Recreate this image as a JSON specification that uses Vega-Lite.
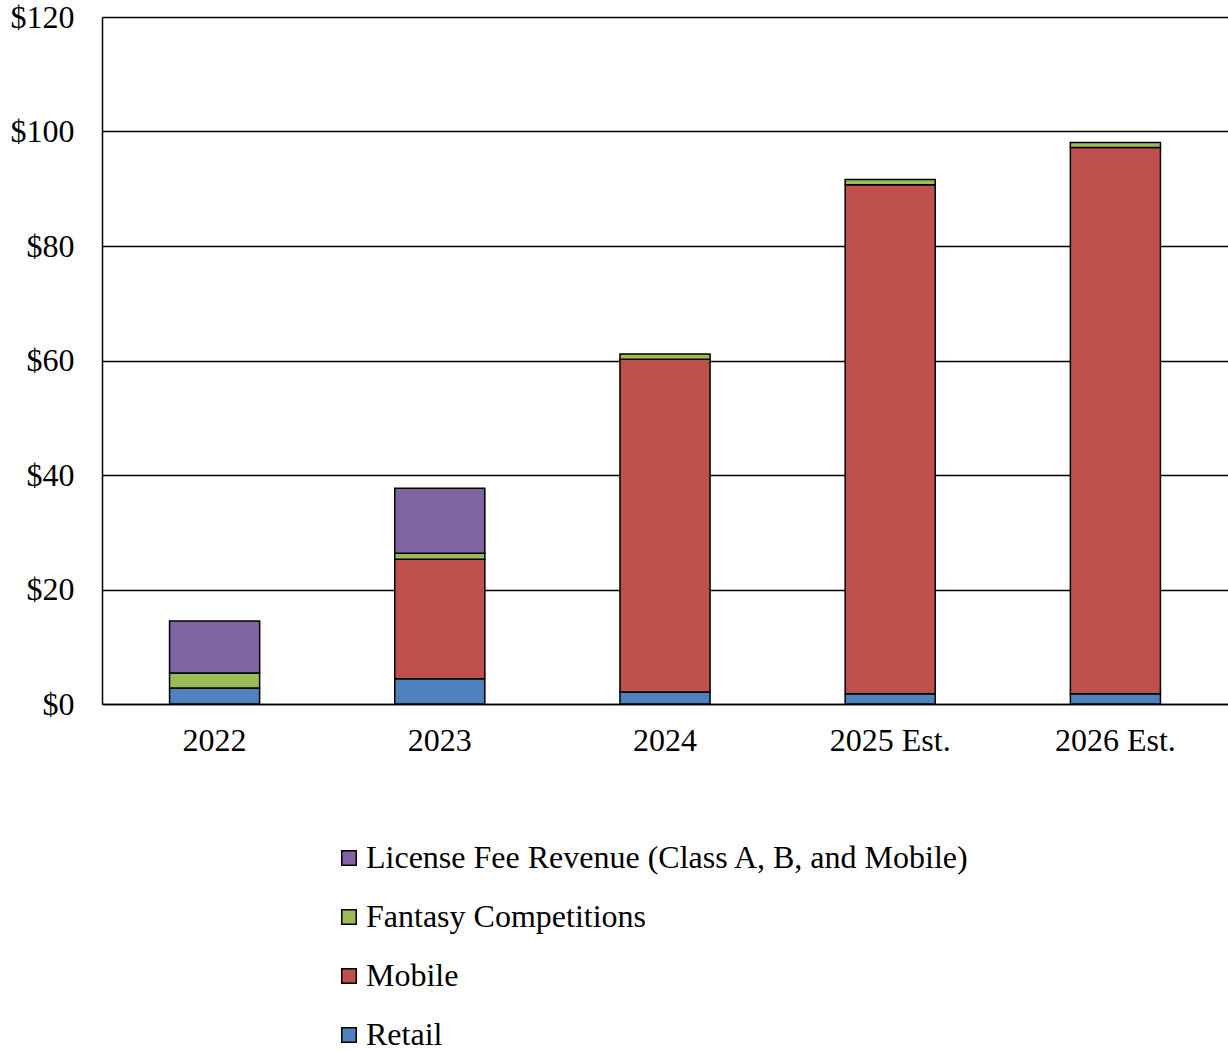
{
  "$schema": "https://vega.github.io/schema/vega-lite/v6.json",
  "width": 1126,
  "height": 687,
  "autosize": {"type": "none"},
  "padding": {"left": 102, "top": 17, "right": 0, "bottom": 347},
  "background": "white",
  "config": {
    "font": "Liberation Serif",
    "view": {"stroke": null},
    "axis": {"labelFont": "Liberation Serif", "labelColor": "black"},
    "legend": {"labelFont": "Liberation Serif"}
  },
  "data": {
    "values": [
      {"year": "2022", "segment": "Retail", "ord": 1, "value": 2.8},
      {"year": "2022", "segment": "Fantasy Competitions", "ord": 3, "value": 2.6},
      {"year": "2022", "segment": "License Fee Revenue (Class A, B, and Mobile)", "ord": 4, "value": 9.1},
      {"year": "2023", "segment": "Retail", "ord": 1, "value": 4.4},
      {"year": "2023", "segment": "Mobile", "ord": 2, "value": 20.9},
      {"year": "2023", "segment": "Fantasy Competitions", "ord": 3, "value": 1.05},
      {"year": "2023", "segment": "License Fee Revenue (Class A, B, and Mobile)", "ord": 4, "value": 11.35},
      {"year": "2024", "segment": "Retail", "ord": 1, "value": 2.1},
      {"year": "2024", "segment": "Mobile", "ord": 2, "value": 58.1},
      {"year": "2024", "segment": "Fantasy Competitions", "ord": 3, "value": 0.93},
      {"year": "2025 Est.", "segment": "Retail", "ord": 1, "value": 1.8},
      {"year": "2025 Est.", "segment": "Mobile", "ord": 2, "value": 88.9},
      {"year": "2025 Est.", "segment": "Fantasy Competitions", "ord": 3, "value": 0.93},
      {"year": "2026 Est.", "segment": "Retail", "ord": 1, "value": 1.8},
      {"year": "2026 Est.", "segment": "Mobile", "ord": 2, "value": 95.4},
      {"year": "2026 Est.", "segment": "Fantasy Competitions", "ord": 3, "value": 0.87}
    ]
  },
  "mark": {"type": "bar", "stroke": "black", "strokeWidth": 1.5},
  "encoding": {
    "x": {
      "field": "year",
      "type": "nominal",
      "sort": null,
      "title": null,
      "scale": {"paddingInner": 0.6, "paddingOuter": 0.3},
      "axis": {
        "labelAngle": 0,
        "labelFontSize": 32,
        "labelPadding": 21,
        "ticks": false,
        "domainColor": "black",
        "domainWidth": 1.5,
        "grid": false
      }
    },
    "y": {
      "field": "value",
      "type": "quantitative",
      "stack": "zero",
      "title": null,
      "scale": {"domain": [0, 120], "nice": false},
      "axis": {
        "values": [0, 20, 40, 60, 80, 100, 120],
        "format": "$,.0f",
        "labelFontSize": 32,
        "labelPadding": 28,
        "ticks": false,
        "domainColor": "black",
        "domainWidth": 1.5,
        "grid": true,
        "gridColor": "black",
        "gridWidth": 1.5
      }
    },
    "color": {
      "field": "segment",
      "type": "nominal",
      "title": null,
      "scale": {
        "domain": ["License Fee Revenue (Class A, B, and Mobile)", "Fantasy Competitions", "Mobile", "Retail"],
        "range": ["#8064A2", "#9BBB59", "#C0504D", "#4F81BD"]
      },
      "legend": {
        "orient": "none",
        "legendX": 231,
        "legendY": 825,
        "direction": "vertical",
        "symbolType": "square",
        "symbolSize": 210,
        "symbolStrokeColor": "black",
        "symbolStrokeWidth": 1.5,
        "labelFontSize": 32,
        "labelColor": "black",
        "labelOffset": 1,
        "rowPadding": 27,
        "labelLimit": 800
      }
    },
    "order": {"field": "ord", "type": "quantitative", "sort": "ascending"}
  }
}
